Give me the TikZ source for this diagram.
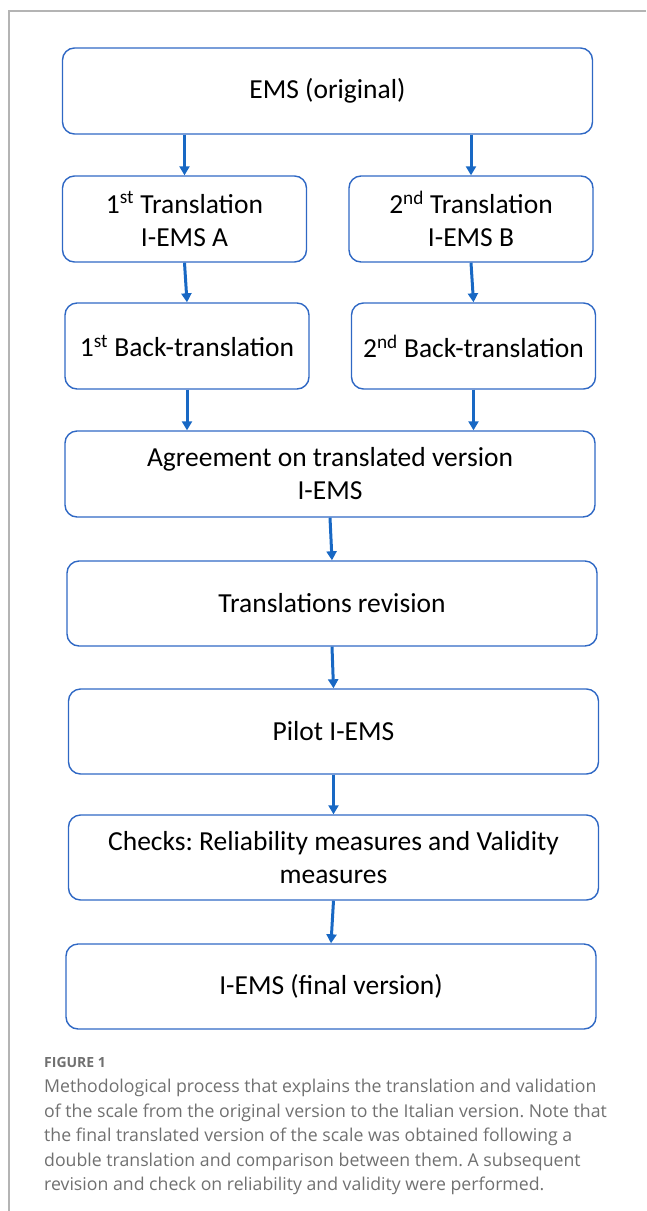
\documentclass[tikz,border=0pt]{standalone}
\usepackage{fontspec}
\setmainfont{Carlito}
\newfontfamily\capfont{Open Sans}
\usetikzlibrary{arrows.meta}
\definecolor{boxblue}{HTML}{2F68C4}
\definecolor{arrowblue}{HTML}{1868C4}
\definecolor{framegray}{HTML}{B4B4B4}
\definecolor{capgray}{HTML}{707070}
\frenchspacing

\begin{document}
\begin{tikzpicture}[x=1pt,y=-1pt,
  stagebox/.style={draw=boxblue, line width=1.4pt, rounded corners=12pt, minimum height=86pt, align=center, inner sep=0pt, font=\fontsize{27.5}{33}\selectfont},
  widebox/.style={stagebox, minimum width=530pt},
  halfbox/.style={stagebox, minimum width=244pt},
  flow/.style={draw=arrowblue, line width=3pt, -{Triangle[width=10pt,length=9pt]}}]
\useasboundingbox (0,0) rectangle (646,1211);
\draw[framegray, line width=1.5pt] (646,11) -- (9,11) -- (9,1211);

\node[widebox] (ems) at (327.5,91) {EMS (original)};
\node[halfbox] (transA) at (184.5,219) {1\textsuperscript{st} Translation\\I-EMS A};
\node[halfbox] (transB) at (471,219) {2\textsuperscript{nd} Translation\\I-EMS B};
\node[halfbox] (backA) at (187,346) {1\textsuperscript{st} Back-translation};
\node[halfbox] (backB) at (473.5,346) {2\textsuperscript{nd} Back-translation};
\node[widebox] (agree) at (330,474) {Agreement on translated version\\I-EMS};
\node[widebox, minimum height=85pt] (revis) at (332,603.5) {Translations revision};
\node[widebox, minimum height=85pt] (pilot) at (333.5,731.5) {Pilot I-EMS};
\node[widebox, minimum height=85pt] (checks) at (333.5,857.5) {Checks: Reliability measures and Validity\\measures};
\node[widebox, minimum height=85pt] (final) at (331,986.5) {I-EMS (final version)};

\draw[flow] (transA.north |- ems.south) -- (transA.north);
\draw[flow] (transB.north |- ems.south) -- (transB.north);
\draw[flow] (transA.south) -- (backA.north);
\draw[flow] (transB.south) -- (backB.north);
\draw[flow] (backA.south) -- (backA.south |- agree.north);
\draw[flow] (backB.south) -- (backB.south |- agree.north);
\draw[flow] (agree.south) -- (revis.north);
\draw[flow] (revis.south) -- (pilot.north);
\draw[flow] (pilot.south) -- (checks.north);
\draw[flow] (checks.south) -- (final.north);

% caption
\node[anchor=base west, inner sep=0pt, font=\capfont\bfseries\fontsize{14}{16}\selectfont, text=capgray] (figlabel) at (44,1067) {FIGURE 1};
\node[anchor=north west, inner sep=0pt, align=left, font=\capfont\fontsize{17.7}{24.5}\selectfont, text=capgray] (caption) at (44,1079) {Methodological process that explains the translation and validation\\of the scale from the original version to the Italian version. Note that\\the final translated version of the scale was obtained following a\\double translation and comparison between them. A subsequent\\revision and check on reliability and validity were performed.};
\end{tikzpicture}
\end{document}
